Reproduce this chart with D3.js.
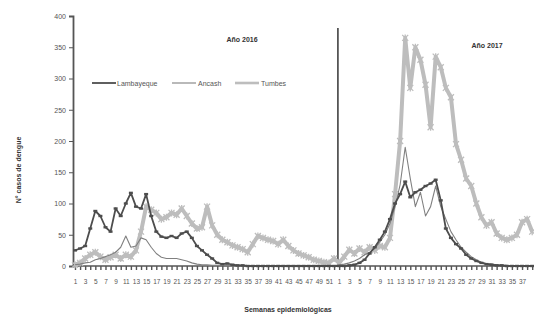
<!DOCTYPE html>
<html>
<head>
<meta charset="utf-8">
<script src="https://cdn.jsdelivr.net/npm/d3@7"></script>
<style>
  body { margin: 0; background: #fff; }
  svg { display: block; font-family: "Liberation Sans", Arial, sans-serif; }
</style>
</head>
<body>
<div id="chart"></div>
<script>
// semanas: 2016 (1..52) y 2017 (1..39)
const weeks2016 = d3.range(1, 53);
const weeks2017 = d3.range(1, 40);

const lambayeque2016 = [25, 28, 32, 60, 88, 80, 62, 55, 92, 80, 100, 117, 95, 92, 115, 80, 55, 47, 45, 48,
  45, 52, 55, 45, 32, 25, 18, 12, 5, 3, 4, 2, 1, 1, 0, 0, 0, 0, 0, 0,
  0, 0, 0, 0, 0, 0, 0, 0, 0, 0, 0, 0];
const ancash2016 = [2, 3, 5, 6, 10, 12, 15, 18, 22, 30, 48, 30, 32, 45, 42, 30, 20, 14, 12, 12,
  12, 10, 8, 5, 3, 2, 2, 1, 1, 1, 0, 0, 0, 0, 0, 0, 0, 0, 0, 0,
  0, 0, 0, 0, 0, 0, 0, 0, 0, 0, 0, 0];
const tumbes2016 = [2, 5, 12, 18, 22, 15, 10, 14, 18, 12, 18, 15, 25, 55, 95, 90, 85, 75, 78, 85,
  82, 92, 80, 68, 60, 62, 95, 65, 50, 42, 38, 33, 30, 27, 22, 35, 48, 45, 42, 40,
  35, 42, 32, 25, 20, 17, 14, 10, 8, 6, 5, 12];

const lambayeque2017 = [0, 0, 1, 2, 5, 10, 20, 30, 42, 55, 75, 100, 115, 135, 110, 118, 122, 128, 132, 138,
  105, 60, 45, 35, 28, 18, 12, 8, 5, 3, 2, 1, 1, 0, 0, 0, 0, 0, 0];
const ancash2017 = [2, 3, 5, 8, 12, 18, 22, 28, 38, 50, 68, 95, 130, 190, 140, 95, 118, 80, 95, 128,
  95, 75, 55, 42, 30, 22, 15, 10, 6, 4, 3, 2, 1, 1, 0, 0, 0, 0, 0];
const tumbes2017 = [5, 15, 26, 20, 28, 22, 30, 25, 32, 30, 45, 115, 200, 365, 285, 350, 330, 290, 222, 335,
  318, 285, 270, 195, 170, 140, 128, 100, 78, 65, 70, 52, 45, 42, 45, 50, 70, 75, 55];

const yTicks = [0, 50, 100, 150, 200, 250, 300, 350, 400];
const seriesNames = ["Lambayeque", "Ancash", "Tumbes"];

const weekLabels = weeks2016.concat(weeks2017);
const series = [
  { name: "Lambayeque", values: lambayeque2016.concat(lambayeque2017), color: "#4d4d4d", width: 1.8, marker: "dash" },
  { name: "Ancash", values: ancash2016.concat(ancash2017), color: "#808080", width: 1.1, marker: null },
  { name: "Tumbes", values: tumbes2016.concat(tumbes2017), color: "#bdbdbd", width: 4, marker: "star" }
];

const W = 534, H = 317;
const svg = d3.select("#chart").append("svg").attr("width", W).attr("height", H);

const x = d3.scaleLinear().domain([0, weekLabels.length - 1]).range([75, 75 + 5.08 * (weekLabels.length - 1)]);
const y = d3.scaleLinear().domain([0, 400]).range([266, 16]);

// axes
const yAxis = svg.append("g")
  .attr("transform", "translate(73,0)")
  .call(d3.axisLeft(y).tickValues(yTicks).tickSize(4).tickPadding(3));
yAxis.select(".domain").attr("stroke", "#555").attr("stroke-width", 1.8);
yAxis.selectAll(".tick line").attr("stroke", "#555");
yAxis.selectAll("text").attr("font-size", 7).attr("fill", "#555");

const xAxis = svg.append("g")
  .attr("transform", "translate(0,266)")
  .call(d3.axisBottom(x)
    .tickValues(d3.range(weekLabels.length))
    .tickSize(4)
    .tickPadding(9)
    .tickFormat(i => (i % 2 === 0 && x(i) < 527) ? weekLabels[i] : ""));
xAxis.select(".domain").attr("d", "M73,0H534").attr("stroke", "#555").attr("stroke-width", 1.5);
xAxis.selectAll(".tick line").attr("stroke", "#555").attr("stroke-width", 1.4);
xAxis.selectAll("text").attr("font-size", 6.5).attr("fill", "#555");

// separator between years
const sepX = x(51.75);
svg.append("line")
  .attr("x1", sepX).attr("x2", sepX)
  .attr("y1", 28).attr("y2", 266)
  .attr("stroke", "#555").attr("stroke-width", 1.8);

// lines
const line = d3.line().x((d, i) => x(i)).y(d => y(d));

const drawOrder = [series[2], series[1], series[0]];
drawOrder.forEach(s => {
  svg.append("path")
    .datum(s.values)
    .attr("fill", "none")
    .attr("stroke", s.color)
    .attr("stroke-width", s.width)
    .attr("stroke-linejoin", "round")
    .attr("d", line);

  if (s.marker === "star") {
    svg.append("g").selectAll("path")
      .data(s.values)
      .join("path")
      .attr("transform", (d, i) => `translate(${x(i)},${y(d)})`)
      .attr("d", "M-3,-3L3,3M-3,3L3,-3M0,-3.5V3.5")
      .attr("stroke", s.color)
      .attr("stroke-width", 1.3);
  } else if (s.marker === "dash") {
    svg.append("g").selectAll("path")
      .data(s.values)
      .join("path")
      .attr("transform", (d, i) => `translate(${x(i)},${y(d)})`)
      .attr("d", "M-2,0H2")
      .attr("stroke", s.color)
      .attr("stroke-width", 2.4);
  }
});

// legend
const legendItems = [
  { x: 92, tx: 117 },
  { x: 172, tx: 198 },
  { x: 235, tx: 261 }
];
seriesNames.forEach((name, i) => {
  const s = series.find(d => d.name === name);
  const lx = legendItems[i].x, ly = 83;
  svg.append("line")
    .attr("x1", lx).attr("x2", lx + 24)
    .attr("y1", ly).attr("y2", ly)
    .attr("stroke", s.color)
    .attr("stroke-width", Math.min(s.width, 2.6));
  svg.append("text")
    .attr("x", legendItems[i].tx).attr("y", ly + 2.5)
    .attr("font-size", 7).attr("fill", "#555")
    .text(name);
});

// titles
svg.append("text").attr("x", 242).attr("y", 42)
  .attr("text-anchor", "middle").attr("font-size", 7).attr("font-weight", "bold").attr("fill", "#333")
  .text("Año 2016");
svg.append("text").attr("x", 487).attr("y", 48)
  .attr("text-anchor", "middle").attr("font-size", 7).attr("font-weight", "bold").attr("fill", "#333")
  .text("Año 2017");
svg.append("text")
  .attr("transform", "translate(21,170) rotate(-90)")
  .attr("text-anchor", "middle").attr("font-size", 7).attr("font-weight", "bold").attr("fill", "#333")
  .text("N° casos de dengue");
svg.append("text").attr("x", 288).attr("y", 312)
  .attr("text-anchor", "middle").attr("font-size", 7).attr("font-weight", "bold").attr("fill", "#333")
  .text("Semanas epidemiológicas");
</script>
</body>
</html>
